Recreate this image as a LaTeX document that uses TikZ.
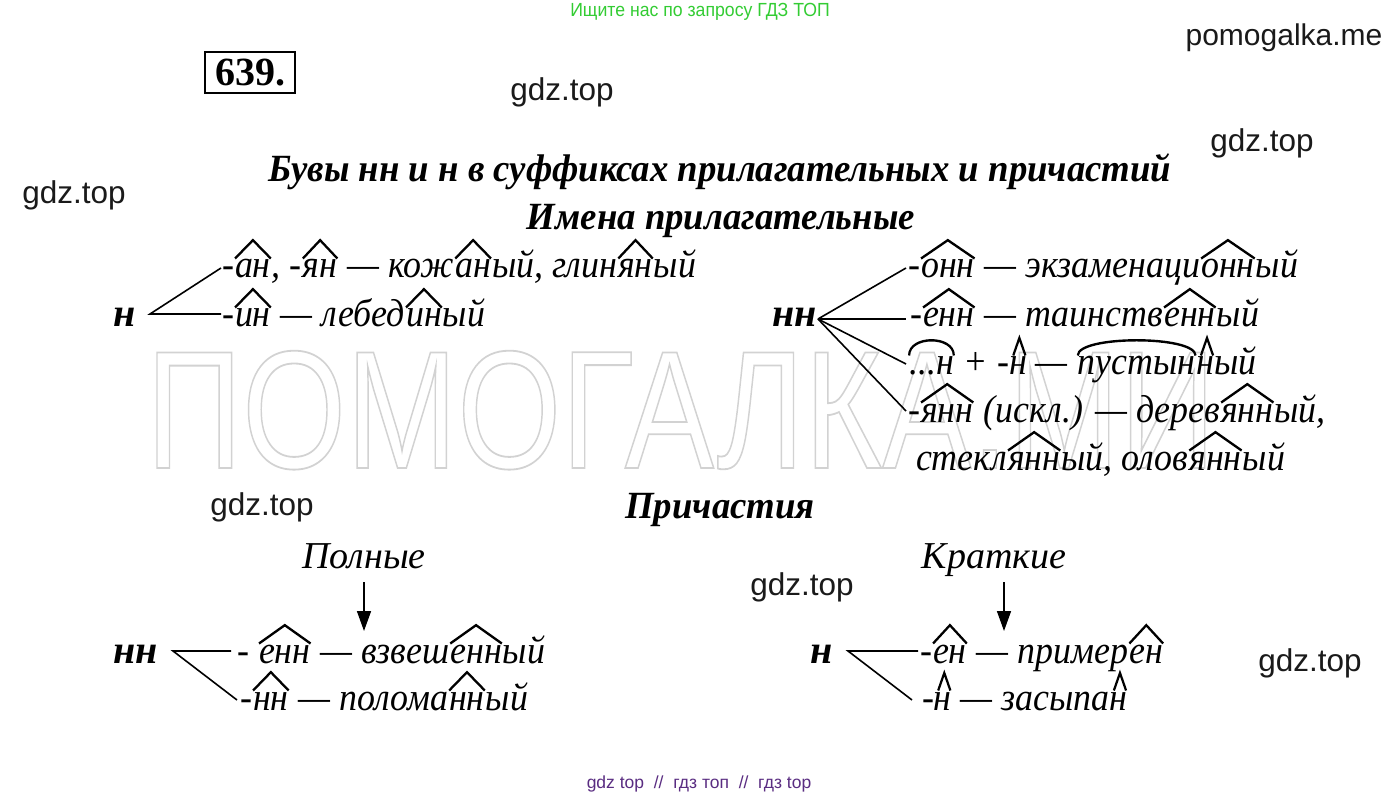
\documentclass[tikz,border=0pt]{standalone}
\usepackage{fontspec}
\setmainfont{Liberation Serif}
\newfontfamily\sansf{Liberation Sans}
\usetikzlibrary{arrows.meta}
\definecolor{hdrgreen}{HTML}{33CC33}
\definecolor{ftpurple}{HTML}{5A2D82}
\definecolor{wmgray}{HTML}{D2D2D2}
\definecolor{wmark}{HTML}{1A1A1A}
\tikzset{
  hatline/.style={line width=2.4pt, line join=miter, line cap=butt},
  rowtext/.style={anchor=base west, inner sep=0pt, outer sep=0pt, font=\fontsize{39}{40}\selectfont\itshape},
  lbl/.style={anchor=base west, inner sep=0pt, font=\fontsize{40}{40}\selectfont\bfseries\itshape},
  head/.style={anchor=base, inner sep=0pt, font=\fontsize{38.5}{40}\selectfont\bfseries\itshape},
  sub/.style={anchor=base, inner sep=0pt, font=\fontsize{38}{40}\selectfont\itshape},
  gdz/.style={inner sep=0pt, text=wmark, font=\sansf\fontsize{31.5}{32}\selectfont},
  conn/.style={line width=1.6pt},
  arr/.style={line width=1.6pt, -{Triangle[length=20pt,width=14pt]}},
}
\newcommand\rw[1]{\scalebox{0.92}[1]{#1}}
\newcommand\hw[1]{\scalebox{0.955}[1]{#1}}
\newcommand\sfxm[1]{\tikz[baseline=(sfxbox.base)]{\node[inner sep=0pt,outer sep=0pt,anchor=base](sfxbox) at (0,0){#1};\draw[hatline] ([yshift=0.5em]sfxbox.base west) -- ([yshift=0.97em]sfxbox.base) -- ([yshift=0.5em]sfxbox.base east);}}
\newcommand\crt[1]{\tikz[baseline=(sfxbox.base)]{\node[inner sep=0pt,outer sep=0pt,anchor=base](sfxbox) at (0,0){#1};\draw[hatline] ([xshift=-0.13em,yshift=0.5em]sfxbox.base) -- ([xshift=0.04em,yshift=0.95em]sfxbox.base) -- ([xshift=0.21em,yshift=0.5em]sfxbox.base);}}
\newcommand\rootarc[1]{\tikz[baseline=(sfxbox.base)]{\node[inner sep=0pt,outer sep=0pt,anchor=base](sfxbox) at (0,0){#1};\draw[hatline] ([yshift=0.5em]sfxbox.base west) .. controls ([yshift=1.02em]sfxbox.base west) and ([yshift=1.02em]sfxbox.base east) .. ([yshift=0.5em]sfxbox.base east);}}
\begin{document}
\begin{tikzpicture}[x=1pt,y=-1pt]
\useasboundingbox (0,0) rectangle (1400,799);
\fill[white] (0,0) rectangle (1400,799);
% watermark
\node[anchor=base west, inner sep=0pt, text=wmgray, font=\sansf\fontsize{168}{170}\selectfont] (wm) at (146,468) {\scalebox{0.795}[1]{\special{pdf:code 1 Tr 1.8 w}ПОМОГАЛКА.МИ\special{pdf:code 0 Tr}}};
% header / footer
\node[font=\sansf\fontsize{19}{20}\selectfont, text=hdrgreen, inner sep=0pt] (hdr) at (700,12) {\scalebox{0.93}[1]{Ищите нас по запросу ГДЗ ТОП}};
\node[font=\sansf\fontsize{17.5}{18}\selectfont, text=ftpurple, inner sep=0pt] (ftr) at (699,784) {gdz top\ \ //\ \ гдз топ\ \ //\ \ гдз top};
% watermarks gdz.top
\node[gdz, font=\sansf\fontsize{30}{32}\selectfont] (pm) at (1284,38) {pomogalka.me};
\node[gdz] (g1) at (562,92) {gdz.top};
\node[gdz] (g2) at (1262,143) {gdz.top};
\node[gdz] (g3) at (74,195) {gdz.top};
\node[gdz] (g4) at (262,507) {gdz.top};
\node[gdz] (g5) at (802,587) {gdz.top};
\node[gdz] (g6) at (1310,663) {gdz.top};
% number box
\node[draw, line width=2.6pt, minimum width=90pt, minimum height=41pt, inner sep=0pt, font=\fontsize{40}{40}\selectfont\bfseries] (num) at (250,72.5) {639.};
% titles
\node[head] (title) at (720,182) {\hw{Бувы нн и н в суффиксах прилагательных и причастий}};
\node[head] (adj) at (721,230) {\hw{Имена прилагательные}};
\node[head] (part) at (720,518) {\hw{Причастия}};
% left adjective block
\node[lbl] (nL) at (113,327) {н};
\node[rowtext] (l1) at (222,278) {\rw{-\sfxm{ан}, -\sfxm{ян} — кож\sfxm{ан}ый, глин\sfxm{ян}ый}};
\node[rowtext] (l2) at (222,327) {\rw{-\sfxm{ин} — лебед\sfxm{ин}ый}};
\coordinate (jL) at (150,314);
\coordinate (eL1) at (221,268);
\coordinate (eL2) at (221,314);
\draw[conn] (eL1) -- (jL) -- (eL2);
% right adjective block
\node[lbl] (nR) at (772,327) {нн};
\node[rowtext] (r1) at (908,278) {\rw{-\sfxm{онн} — экзаменаци\sfxm{онн}ый}};
\node[rowtext] (r2) at (910,327) {\rw{-\sfxm{енн} — таинств\sfxm{енн}ый}};
\node[rowtext] (r3) at (908,375) {\rw{\rootarc{...н} + -\crt{н} — \rootarc{пустын}\crt{н}ый}};
\node[rowtext] (r4) at (908,422) {\rw{-\sfxm{янн} (искл.) — дерев\sfxm{янн}ый,}};
\node[rowtext] (r5) at (916,470) {\rw{стекл\sfxm{янн}ый, олов\sfxm{янн}ый}};
\coordinate (jR) at (818,319);
\coordinate (eR1) at (906,268);
\coordinate (eR2) at (906,319);
\coordinate (eR3) at (906,364);
\coordinate (eR4) at (906,411);
\draw[conn] (jR) -- (eR1);
\draw[conn] (jR) -- (eR2);
\draw[conn] (jR) -- (eR3);
\draw[conn] (jR) -- (eR4);
% participles: full
\node[sub] (poln) at (364,568) {Полные};
\coordinate (aP0) at (364,582);
\coordinate (aP) at (364,631);
\draw[arr] (aP0) -- (aP);
\node[lbl] (nnP) at (113,663) {нн};
\node[rowtext] (p1) at (237,663) {\rw{- \sfxm{енн} — взвеш\sfxm{енн}ый}};
\node[rowtext] (p2) at (240,710) {\rw{-\sfxm{нн} — полома\sfxm{нн}ый}};
\coordinate (jP) at (173,651);
\coordinate (eP1) at (231,651);
\coordinate (eP2) at (237,700);
\draw[conn] (eP1) -- (jP) -- (eP2);
% participles: short
\node[sub] (krat) at (994,568) {Краткие};
\coordinate (aK0) at (1004,582);
\coordinate (aK) at (1004,631);
\draw[arr] (aK0) -- (aK);
\node[lbl] (nK) at (810,663) {н};
\node[rowtext] (k1) at (920,663) {\rw{-\sfxm{ен} — пример\sfxm{ен}}};
\node[rowtext] (k2) at (922,710) {\rw{-\crt{н} — засыпа\crt{н}}};
\coordinate (jK) at (848,651);
\coordinate (eK1) at (918,651);
\coordinate (eK2) at (912,700);
\draw[conn] (eK1) -- (jK) -- (eK2);
\end{tikzpicture}
\end{document}
